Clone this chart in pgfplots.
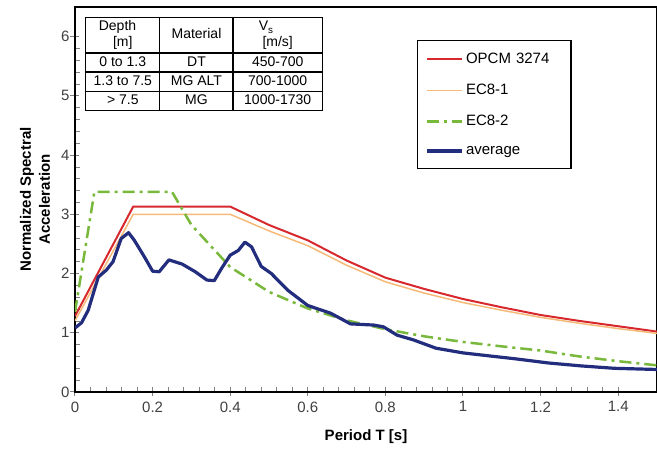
\documentclass[border=0pt]{standalone}
\usepackage{fontspec}
\setmainfont{Liberation Sans}
\usepackage{pgfplots}
\pgfplotsset{compat=1.18}
\usepackage{array}
\definecolor{opcm}{RGB}{215,40,45}
\definecolor{econe}{RGB}{245,185,120}
\definecolor{ectwo}{RGB}{120,185,60}
\definecolor{avg}{RGB}{35,45,125}
\begin{document}
\begin{tikzpicture}
\useasboundingbox (-75pt,-62pt) rectangle (582pt,392pt);
\begin{axis}[
  at={(0,0)}, anchor=south west, scale only axis,
  width=582pt, height=385pt,
  xmin=0, xmax=1.5, ymin=0, ymax=6.5,
  xtick={0,0.2,0.4,0.6,0.8,1,1.2,1.4},
  xticklabels={0,0.2,0.4,0.6,0.8,1,1.2,1.4},
  ytick={0,1,2,3,4,5,6},
  minor x tick num=4, minor y tick num=4,
  xtick pos=left, ytick pos=left,
  tick align=inside,
  major tick length=9pt, minor tick length=5pt,
  major x tick style={yshift=-4.5pt, line width=1pt},
  major y tick style={xshift=-4.5pt, line width=1pt},
  minor tick style={line width=0.8pt},
  axis line style={line width=1.2pt},
  /pgf/number format/assume math mode=true,
  tick label style={font=\fontsize{15}{17}\selectfont, text=black!75},
  x tick label style={yshift=-6pt},
  y tick label style={xshift=-2pt},
  xlabel={Period T [s]},
  xlabel style={at={(axis description cs:0.5,-0.117)}, anchor=center, font=\bfseries\fontsize{15}{18}\selectfont},
  ylabel={Normalized Spectral\\Acceleration},
  ylabel style={at={(axis description cs:-0.0687,0.5)}, anchor=center, align=center, font=\bfseries\fontsize{15}{19}\selectfont},
  legend style={at={(rel axis cs:0.588,0.915)}, anchor=north west, draw=black, line width=1.2pt,
     font=\fontsize{15}{17}\selectfont, row sep=15pt, inner xsep=8pt, inner ysep=11pt,
     text width=95pt},
  legend cell align=left,
  legend image code/.code={\draw[#1] (0pt,0pt) -- (35pt,0pt);},
]
\addplot[opcm, line width=2pt] coordinates {
 (0,1.28) (0.15,3.13) (0.4,3.13) (0.5,2.82) (0.6,2.56) (0.7,2.22) (0.8,1.93) (0.9,1.74)
 (1.0,1.57) (1.1,1.43) (1.2,1.30) (1.3,1.20) (1.4,1.11) (1.5,1.02)};
\addlegendentry{OPCM 3274}
\addplot[econe, line width=1.5pt] coordinates {
 (0,1.20) (0.15,3.0) (0.4,3.0) (0.5,2.72) (0.6,2.47) (0.7,2.14) (0.8,1.86) (0.9,1.67)
 (1.0,1.51) (1.1,1.38) (1.2,1.26) (1.3,1.16) (1.4,1.07) (1.5,0.99)};
\addlegendentry{EC8-1}
\addplot[ectwo, line width=2.5pt, dash pattern=on 12pt off 5pt on 3pt off 5pt] coordinates {
 (0,1.35) (0.05,3.38) (0.25,3.38) (0.3,2.82) (0.4,2.11) (0.5,1.69) (0.6,1.41) (0.7,1.21)
 (0.8,1.06) (0.9,0.94) (1.0,0.845) (1.1,0.77) (1.2,0.70) (1.3,0.60) (1.4,0.52) (1.5,0.45)};
\addlegendentry{EC8-2}
\addplot[avg, line width=3.2pt, line join=round] coordinates {
 (0,1.08) (0.017,1.17) (0.034,1.38) (0.06,1.94) (0.081,2.06) (0.098,2.20) (0.119,2.59)
 (0.138,2.69) (0.153,2.56) (0.179,2.28) (0.2,2.04) (0.217,2.03) (0.242,2.23) (0.276,2.16)
 (0.31,2.03) (0.34,1.89) (0.359,1.88) (0.378,2.09) (0.40,2.31) (0.421,2.39) (0.438,2.53)
 (0.455,2.45) (0.48,2.12) (0.506,2.0) (0.548,1.72) (0.6,1.46) (0.659,1.33) (0.71,1.15)
 (0.77,1.13) (0.795,1.10) (0.83,0.96) (0.872,0.88) (0.93,0.74) (1.0,0.66) (1.067,0.61)
 (1.135,0.56) (1.22,0.49) (1.305,0.44) (1.39,0.40) (1.5,0.38)};
\addlegendentry{average}
\node[anchor=north west, inner sep=0pt, font=\fontsize{14}{16}\selectfont]
  at (rel axis cs:0.017,0.974) {%
  \setlength{\arrayrulewidth}{1.2pt}\setlength{\tabcolsep}{2pt}%
  \renewcommand{\arraystretch}{1.12}%
  \begin{tabular}{|>{\centering\arraybackslash}m{69pt}|>{\centering\arraybackslash}m{68pt}|>{\centering\arraybackslash}m{84pt}|}
  \hline
  Depth\newline[m] & Material & V$_{\mathrm{s}}$\newline[m/s] \\ \hline
  0 to 1.3 & DT & 450-700 \\ \hline
  1.3 to 7.5 & MG ALT & 700-1000 \\ \hline
  > 7.5 & MG & 1000-1730 \\ \hline
  \end{tabular}};
\end{axis}
\end{tikzpicture}
\end{document}
